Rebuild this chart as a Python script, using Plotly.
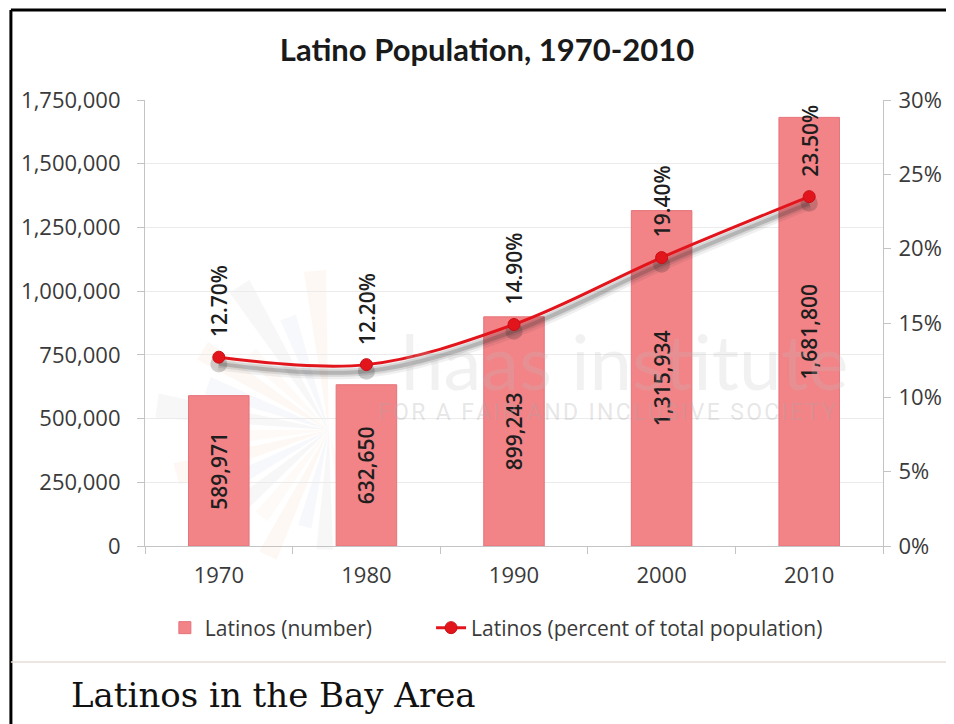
import math
import plotly.graph_objects as go

# ---------------- data ----------------
years = ["1970", "1980", "1990", "2000", "2010"]
latinos_number = [589971, 632650, 899243, 1315934, 1681800]
latinos_percent = [12.7, 12.2, 14.9, 19.4, 23.5]

left_tickvals = [0, 250000, 500000, 750000, 1000000, 1250000, 1500000, 1750000]
right_tickvals = [0, 5, 10, 15, 20, 25, 30]

title_text = "Latino Population, 1970-2010"
caption_text = "Latinos in the Bay Area"
bar_name = "Latinos (number)"
line_name = "Latinos (percent of total population)"
watermark_main = "haas institute"
watermark_sub = "FOR A FAIR AND INCLUSIVE SOCIETY"

# ---------------- layout geometry ----------------
OFF = 8                      # page body margin of the browser
W, H = 954 - OFF, 724 - OFF
RL, RR, RT, RB = 145, 888, 100, 546   # plot area in reference pixels
L, R, T, B = RL - OFF, RR - OFF, RT - OFF, RB - OFF


def px(xr):
    return (xr - RL) / (RR - RL)


def py(yr):
    return (RB - yr) / (RB - RT)


BAR_COLOR = "#f28387"
BAR_LINE = "#e5737a"
LINE_COLOR = "#e3151c"
TEXT = "#1e1e1e"
TICK = "#3a3a3a"
FONT = "Open Sans"

fig = go.Figure()

fig.add_trace(go.Bar(
    x=years, y=latinos_number, name=bar_name,
    marker=dict(color=BAR_COLOR, line=dict(color=BAR_LINE, width=1)),
    text=[f"{v:,}" for v in latinos_number],
    textposition="inside", insidetextanchor="middle", textangle=-90,
    insidetextfont=dict(family=FONT, size=21, color=TEXT, weight=600),
    xaxis="x", yaxis="y", showlegend=True, legend="legend",
))

# shadow of the line (drawn on an offset hidden axis)
for w, a in [(13, 0.07), (8, 0.12), (4, 0.2)]:
    fig.add_trace(go.Scatter(
        x=years, y=latinos_percent, mode="lines",
        line=dict(color=f"rgba(40,40,40,{a})", width=w, shape="spline", smoothing=1.0),
        xaxis="x", yaxis="y2", showlegend=False, hoverinfo="skip",
    ))
fig.add_trace(go.Scatter(
    x=years, y=latinos_percent, mode="markers",
    marker=dict(color="rgba(40,40,40,0.22)", size=17),
    xaxis="x", yaxis="y2", showlegend=False, hoverinfo="skip",
))

fig.add_trace(go.Scatter(
    x=years, y=latinos_percent, name=line_name, mode="lines+markers",
    line=dict(color=LINE_COLOR, width=3, shape="spline", smoothing=1.0),
    marker=dict(color=LINE_COLOR, size=12, line=dict(color="#c81016", width=1)),
    xaxis="x", yaxis="y3", showlegend=True, legend="legend2",
))

annotations = []
for i, p in enumerate(latinos_percent):
    annotations.append(dict(
        x=i, y=p, xref="x", yref="y3", text=f"{p:.2f}%", textangle=-90,
        showarrow=False, yanchor="bottom", xanchor="center", yshift=18,
        font=dict(family=FONT, size=21, color=TEXT, weight=600),
    ))

# watermark
annotations.append(dict(
    x=px(628), y=py(360), xref="paper", yref="paper", text=watermark_main,
    showarrow=False, font=dict(family="Lato", size=76, color="rgba(190,190,190,0.22)"),
))
annotations.append(dict(
    x=px(610), y=py(428), xref="paper", yref="paper", text="\u200a".join(watermark_sub),
    showarrow=False, font=dict(family="Roboto", size=23, color="rgba(170,170,170,0.3)"),
))

# caption
annotations.append(dict(
    x=px(68), y=py(695), xref="paper", yref="paper", text=caption_text,
    showarrow=False, xanchor="left", yanchor="middle",
    font=dict(family="DejaVu Serif", size=34, color="#111111"),
))

shapes = [
    dict(type="line", xref="paper", yref="paper", x0=px(10), x1=px(960), y0=py(10), y1=py(10),
         line=dict(color="#000000", width=3)),
    dict(type="line", xref="paper", yref="paper", x0=px(10), x1=px(10), y0=py(10), y1=py(730),
         line=dict(color="#000000", width=3)),
    dict(type="line", xref="paper", yref="paper", x0=px(10), x1=px(960), y0=py(662), y1=py(662),
         line=dict(color="#e6dcd8", width=1.5)),
]

# faint sunburst logo of the watermark (decoration)
cx, cy = 330, 430
ray_colors = ["rgba(240,170,120,0.08)", "rgba(150,170,200,0.08)", "rgba(180,180,180,0.10)",
              "rgba(240,200,170,0.09)"]
ray_specs = [(95, 160), (110, 120), (122, 170), (136, 110), (148, 150), (160, 130),
             (172, 175), (184, 120), (196, 160), (208, 130), (220, 150), (232, 110),
             (244, 140), (256, 100), (268, 120), (282, 90)]
for k, (ang, ln) in enumerate(ray_specs):
    a0 = math.radians(ang - 4)
    a1 = math.radians(ang + 4)
    x0, y0 = cx + ln * math.cos(a0), cy - ln * math.sin(a0)
    x1, y1 = cx + ln * math.cos(a1), cy - ln * math.sin(a1)
    path = f"M {px(cx)},{py(cy)} L {px(x0)},{py(y0)} L {px(x1)},{py(y1)} Z"
    shapes.append(dict(type="path", xref="paper", yref="paper", path=path,
                       fillcolor=ray_colors[k % 4], line=dict(width=0), layer="below"))


def axis_style(standoff):
    return dict(showline=True, linecolor="#c4c4c4", linewidth=1.2,
                ticks="outside", ticklen=7, tickcolor="#c4c4c4",
                ticklabelstandoff=standoff,
                tickfont=dict(family=FONT, size=22, color=TICK))


legend_common = dict(orientation="h", yanchor="middle", y=py(628), xanchor="left",
                     font=dict(family=FONT, size=21, color=TICK), bgcolor="rgba(0,0,0,0)")

fig.update_layout(
    width=W, height=H,
    margin=dict(l=L, r=W - R, t=T, b=H - B),
    paper_bgcolor="white", plot_bgcolor="white",
    title=dict(text=f"<b>{title_text}</b>", x=(487 - OFF) / W, xanchor="center",
               y=1 - (50 - OFF) / H, yanchor="middle", yref="container",
               font=dict(family="Lato", size=31, color="#1a1a1a")),
    bargap=0.59,
    xaxis=dict(type="category", categoryorder="array", categoryarray=years,
               range=[-0.5, len(years) - 0.5], tickson="boundaries", tickangle=0,
               **axis_style(9)),
    yaxis=dict(range=[0, 1750000], tickmode="array", tickvals=left_tickvals,
               ticktext=[f"{v:,}" for v in left_tickvals],
               showgrid=True, gridcolor="#ebebeb", gridwidth=1, zeroline=False,
               **axis_style(12)),
    yaxis2=dict(range=[0.45, 30.45], overlaying="y", side="right", visible=False),
    yaxis3=dict(range=[0, 30], overlaying="y", side="right", tickmode="array",
                tickvals=right_tickvals, ticktext=[f"{v}%" for v in right_tickvals],
                showgrid=False, zeroline=False, **axis_style(3)),
    legend=dict(x=px(165), **legend_common),
    legend2=dict(x=px(433), **legend_common),
    annotations=annotations,
    shapes=shapes,
    showlegend=True,
)

fig.write_html("out.html")
